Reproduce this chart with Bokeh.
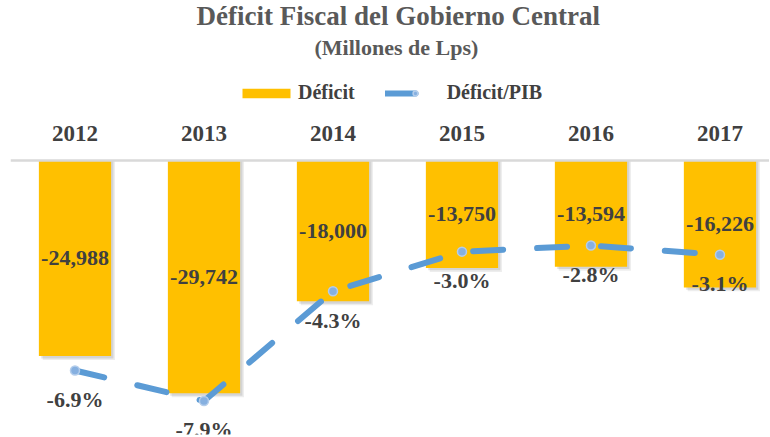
from bokeh.plotting import figure
from bokeh.models import (Range1d, Legend, LegendItem, Title, ColumnDataSource,
                          FixedTicker)
from bokeh.transform import dodge
from bokeh.embed import file_html
from bokeh.resources import INLINE
from bokeh.core.properties import value

# ---- data ----
years = ["2012", "2013", "2014", "2015", "2016", "2017"]
deficit = [-24988, -29742, -18000, -13750, -13594, -16226]
deficit_pib = [-6.9, -7.9, -4.3, -3.0, -2.8, -3.1]

idx = list(range(len(years)))
deficit_labels = [f"{v:,}" for v in deficit]
pib_labels = [f"{v:.1f}%" for v in deficit_pib]
deficit_mid = [v / 2 for v in deficit]

src = ColumnDataSource(dict(x=idx, year=years, deficit=deficit, pib=deficit_pib,
                            dlab=deficit_labels, plab=pib_labels, dmid=deficit_mid))

FONT = "Liberation Serif"
TXT = "#404040"

TOP = 62      # figure px of frame top
ZERO = 159    # figure px of the zero line
ytop = (ZERO - TOP) * 35000 / 275
ptop = (ZERO - TOP) * 9 / 275

p = figure(width=769, height=436, x_range=Range1d(-0.5, 5.384),
           y_range=Range1d(-35000, ytop), x_axis_location="above", y_axis_location=None,
           output_backend="svg", toolbar_location=None,
           min_border_left=10, min_border_right=0, min_border_bottom=2, min_border_top=0)
p.extra_y_ranges = {"pct": Range1d(-9, ptop)}
p.xgrid.visible = False
p.ygrid.visible = False
p.outline_line_color = None

ax = p.xaxis[0]
ax.fixed_location = 0
ax.ticker = FixedTicker(ticks=idx)
ax.major_label_overrides = {i: y for i, y in zip(idx, years)}
ax.major_tick_line_color = None
ax.minor_tick_line_color = None
ax.axis_line_color = "#D9D9D9"
ax.axis_line_width = 2.5
ax.major_label_text_font = FONT
ax.major_label_text_font_style = "bold"
ax.major_label_text_font_size = "23px"
ax.major_label_text_color = TXT
ax.major_label_standoff = 13

# soft drop shadow of the bars
for dx, dy, a in [(0.03, -500, 0.07), (0.018, -300, 0.10)]:
    p.vbar(x=dodge("x", dx), top=0, bottom=dodge("deficit", dy), width=0.56,
           source=src, fill_color="#000000", fill_alpha=a, line_color=None)

bars = p.vbar(x="x", top=0, bottom="deficit", width=0.56, source=src,
              fill_color="#FFC000", line_color=None)
p.text(x="x", y="dmid", text="dlab", source=src, text_align="center",
       text_baseline="middle", text_font=value(FONT), text_font_style="bold",
       text_font_size="22px", text_color=TXT)

line = p.line(x="x", y="pib", source=src, y_range_name="pct", line_color="#5B9BD5",
              line_width=6, line_dash="30 34", line_cap="round")
marks = p.scatter(x="x", y="pib", source=src, y_range_name="pct", size=9,
                  fill_color="#86B0E0", line_color="#B4CDEB", line_width=1.5)
p.text(x="x", y="pib", text="plab", source=src, y_range_name="pct", y_offset=29,
       text_align="center", text_baseline="middle", text_font=value(FONT),
       text_font_style="bold", text_font_size="22px", text_color=TXT)

legend = Legend(items=[LegendItem(label="Déficit", renderers=[bars]),
                       LegendItem(label="Déficit/PIB", renderers=[line, marks])],
                orientation="horizontal", location=(226, 330),
                glyph_width=60, glyph_height=12, label_standoff=2, spacing=30,
                padding=5, margin=0, border_line_color=None,
                label_text_font=FONT, label_text_font_style="bold",
                label_text_font_size="20px", label_text_color=TXT,
                background_fill_alpha=0)
p.add_layout(legend, "center")

p.add_layout(Title(text="(Millones de Lps)", align="left", offset=304,
                   text_font=FONT, text_font_style="bold", text_font_size="22px",
                   text_color="#595959", standoff=7), "above")
p.add_layout(Title(text="Déficit Fiscal del Gobierno Central", align="left", offset=186,
                   text_font=FONT, text_font_style="bold", text_font_size="27px",
                   text_color="#595959", standoff=-3), "above")

open("out.html", "w").write(file_html(p, INLINE))
